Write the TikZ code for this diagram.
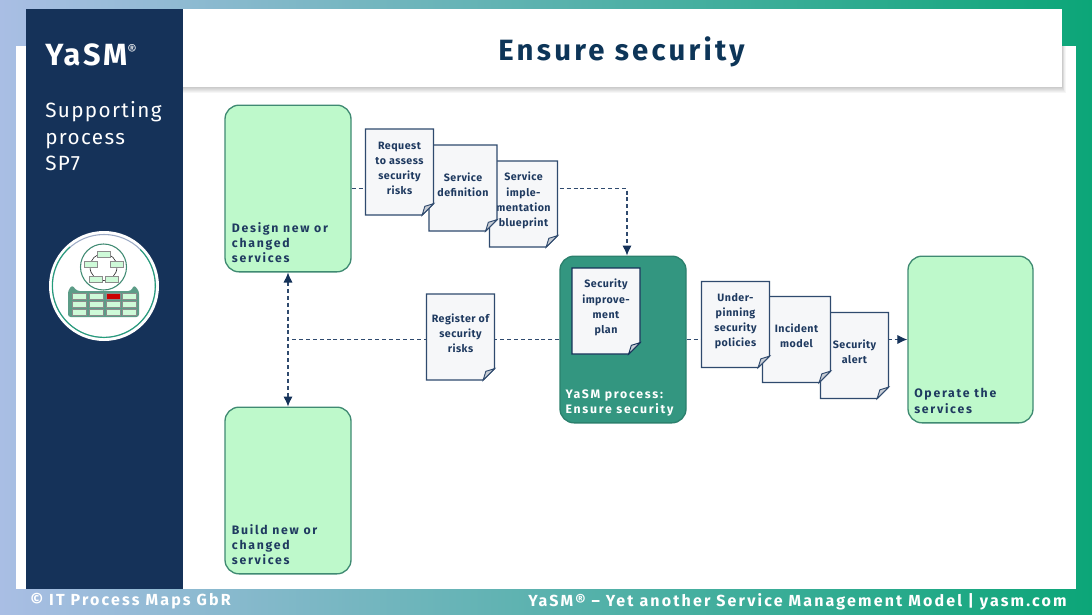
\documentclass[tikz,border=0pt]{standalone}
\usepackage{fontspec}
\setmainfont{Fira Sans}
\newfontfamily\brandface[LetterSpace=9]{Fira Sans}
\newfontfamily\titleface[LetterSpace=11]{Fira Sans}
\newfontfamily\wideface[LetterSpace=6.6]{Fira Sans}
\newfontfamily\boxface[LetterSpace=14]{Fira Sans}
\newfontfamily\docface[LetterSpace=4.5]{Fira Sans}
\newfontfamily\footface[LetterSpace=13.5]{Fira Sans}
\usepackage{tikz}
\usetikzlibrary{positioning}
\usetikzlibrary{arrows.meta}
\definecolor{navyside}{HTML}{153259}
\definecolor{navyline}{HTML}{2F4A6E}
\definecolor{navytext}{HTML}{1F3A60}
\definecolor{titleblue}{HTML}{0D3558}
\definecolor{lightblue}{HTML}{A9BEE4}
\definecolor{yasmgreen}{HTML}{0CA678}
\definecolor{mint}{HTML}{BEF9CB}
\definecolor{mintline}{HTML}{3F8A72}
\definecolor{tealbox}{HTML}{339680}
\definecolor{docgrey}{HTML}{F6F7F9}
\definecolor{foldgrey}{HTML}{C8CDD5}
\tikzset{
    procbox/.style={draw=mintline, line width=1pt, fill=mint, rounded corners=10.5pt,
        minimum width=94.5pt, minimum height=125pt, inner sep=0pt},
    activebox/.style={procbox, draw=tealbox!85!black, fill=tealbox},
    boxtext/.style={anchor=south west, align=left, inner sep=0pt, font=\boxface\bfseries\fontsize{9.2}{11.3}\selectfont, text=navytext},
    docbox/.style={minimum width=51pt, minimum height=64.5pt, inner sep=0pt, outer sep=0pt},
    doctext/.style={align=center, inner sep=0pt, yshift=2.7pt, font=\docface\bfseries\fontsize{8}{11.3}\selectfont, text=navytext},
    flow/.style={draw=navyline, line width=0.9pt, dash pattern=on 3pt off 2.2pt},
    tip/.style={-{Latex[length=7.5pt,width=7pt,color=navyside]}},
    twotip/.style={{Latex[length=7.5pt,width=7pt,color=navyside]}-{Latex[length=7.5pt,width=7pt,color=navyside]}},
    logobit/.style={draw=black!45, line width=0.3pt, fill=mint!75!white},
}
\newcommand{\docnode}[4][navyline]{%
    \node[docbox] (#2) at (#3) {};
    \draw[#1, line width=1pt, fill=docgrey] (#2.north west) -- (#2.north east)
        -- ([yshift=8.5pt]#2.south east) -- ([xshift=-8.5pt]#2.south east)
        -- (#2.south west) -- cycle;
    \draw[#1, line width=0.7pt, fill=foldgrey] ([yshift=8.5pt]#2.south east)
        -- ([xshift=-6.5pt,yshift=6.5pt]#2.south east) -- ([xshift=-8.5pt]#2.south east) -- cycle;
    \node[doctext] (#2text) at (#2) {#4};
}
\begin{document}
\begin{tikzpicture}[x=0.75pt, y=-0.75pt]
    \useasboundingbox (0,0) rectangle (1092,614);
    % page
    \shade[left color=lightblue, right color=yasmgreen] (0,0) rectangle (1092,614);
    \fill[white] (16,46) rectangle (1076,589);
    \foreach \spread in {1,...,6}
        \fill[black, opacity=0.035] (183,46) rectangle (1062+\spread*0.6,87+\spread);
    \fill[white] (183,9) rectangle (1062,87);
    \fill[navyside] (26,9) rectangle (183,589);
    % sidebar and title
    \node[anchor=west, inner sep=0pt, text=white, font=\brandface\bfseries\fontsize{23}{26}\selectfont] (brand) at (45,54.5) {YaSM\raisebox{7pt}{\fontsize{11}{11}\selectfont\mdseries ®}};
    \node[anchor=north west, align=left, inner sep=0pt, text=white, font=\wideface\fontsize{15.5}{19.6}\selectfont] (sidetitle) at (45,101.5) {Supporting\\process\\SP7};
    \node[text=titleblue, inner sep=0pt, font=\titleface\bfseries\fontsize{22}{26}\selectfont] (title) at (621.5,52) {Ensure security};
    % logo
    \fill[white] (104,286) circle (55);
    \draw[lightblue!70!gray, line width=0.8pt] (104,286) circle (51.5);
    \draw[yasmgreen!80!gray, line width=0.8pt] (70,247) arc[start angle=229, end angle=-45, radius=51.5*0.75pt, y radius=-51.5*0.75pt];
    \draw[mintline, line width=0.8pt] (103.5,267) circle (23);
    \draw[black!80, line width=0.5pt] (103.5,267) circle (13.5);
    \foreach \bx/\by in {103.5/254.5, 90.7/263.7, 116.3/263.7, 95.7/278.7, 111.7/278.7}
        \draw[logobit] (\bx-6.5,\by-3) rectangle (\bx+6.5,\by+3);
    \fill[mintline!85!white, rounded corners=2pt] (68,317) -- (68,291) -- (72,285) -- (77,291) -- (131,291) -- (134,285) -- (139,291) -- (139,317) -- cycle;
    \foreach \bx in {79,95.7,112.7,129.3}
        \foreach \by in {296,304,312}
            \draw[logobit] (\bx-7,\by-3) rectangle (\bx+7,\by+3);
    \draw[black!45, line width=0.3pt, fill=red!80!black] (105.7,293) rectangle (119.7,299);
    % process boxes
    \node[procbox] (design) at (288,188.5) {};
    \node[procbox] (build) at (288,490.5) {};
    \node[activebox] (process) at (623,339.5) {};
    \node[procbox, minimum width=93.75pt] (operate) at (970.5,339.5) {};
    \node[boxtext] (designtext) at ([xshift=5.5pt,yshift=7pt]design.south west) {Design new or\\changed\\services};
    \node[boxtext] (buildtext) at ([xshift=5.5pt,yshift=7pt]build.south west) {Build new or\\changed\\services};
    \node[boxtext, text=white] (processtext) at ([xshift=4.5pt,yshift=5.25pt]process.south west) {YaSM process:\\Ensure security};
    \node[boxtext] (operatetext) at ([xshift=5pt,yshift=7.5pt]operate.south west) {Operate the\\services};
    % connectors
    \coordinate (planin) at ([xshift=3pt]process.north);
    \draw[flow, tip] (design.east) -| (planin);
    \draw[flow, twotip] (design.south) -- (build.north);
    \draw[flow] (process.west) -- (design.south |- process.west);
    \draw[flow, tip] (process.east) -- (operate.west);
    % documents
    \docnode{blueprint}{523.5,204}{Service\\imple-\\mentation\\blueprint}
    \docnode{definition}{463,188}{Service\\definition}
    \docnode{request}{399.5,172}{Request\\to assess\\security\\risks}
    \docnode{register}{460.5,337}{Register of\\security\\risks}
    \docnode[navyside]{plan}{606,311}{Security\\improve-\\ment\\plan}
    \docnode{alert}{854.5,355.5}{Security\\alert}
    \docnode{incident}{796.5,339.5}{Incident\\model}
    \docnode{policies}{735.5,324.5}{Under-\\pinning\\security\\policies}
    % footer
    \node[anchor=west, inner sep=0pt, text=white, font=\footface\bfseries\fontsize{12}{14}\selectfont] (copyright) at (30,601.5) {© IT Process Maps GbR};
    \node[anchor=east, inner sep=0pt, text=white, font=\footface\bfseries\fontsize{12}{14}\selectfont] (strapline) at (1067,601.5) {YaSM® – Yet another Service Management Model | yasm.com};
\end{tikzpicture}
\end{document}
